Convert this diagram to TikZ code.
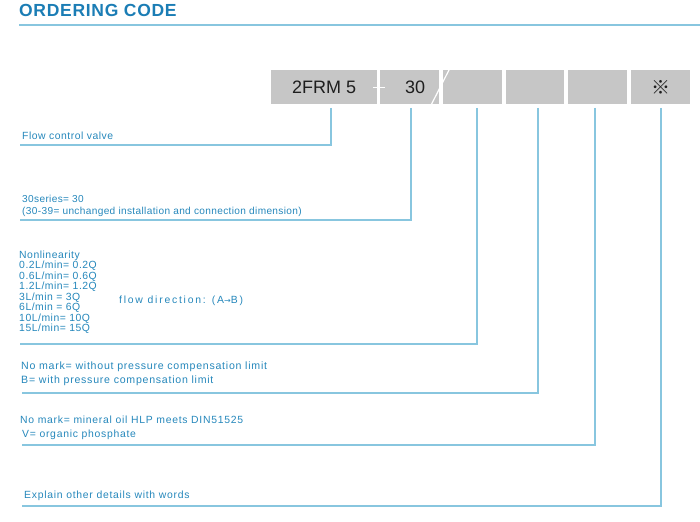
\documentclass[tikz,border=0pt]{standalone}
\usepackage{fontspec}
\setmainfont{Liberation Sans}
\newfontfamily\lsp[LetterSpace=5]{Liberation Sans}
\newfontfamily\lspn[LetterSpace=3.5]{Liberation Sans}
\newfontfamily\lspw[LetterSpace=7]{Liberation Sans}
\newfontfamily\wsp[LetterSpace=17]{Liberation Sans}
\newfontfamily\tsp[LetterSpace=4]{Liberation Sans}
\newfontfamily\arrowf{DejaVu Sans}
\newfontfamily\cjk{Noto Sans CJK SC}
\usetikzlibrary{calc}
\definecolor{titleblue}{HTML}{1B7DB5}
\definecolor{textblue}{HTML}{2587BB}
\definecolor{lineblue}{HTML}{88C6DF}
\definecolor{boxgray}{HTML}{C6C6C6}
\definecolor{codeink}{HTML}{1E1E1E}
\tikzset{
  codebox/.style={fill=boxgray, draw=none, inner sep=0pt, minimum height=34pt, anchor=north west,
    text=codeink, font=\fontsize{18}{20}\selectfont},
  desc/.style={anchor=west, inner sep=0pt, text=textblue, align=left,
    font=\lsp\fontsize{10.4}{12}\selectfont},
  conn/.style={draw=lineblue, line width=1.2pt},
  cut/.style={draw=white, line width=1.2pt}
}
\begin{document}
\begin{tikzpicture}[x=1pt,y=-1pt]
\useasboundingbox (0,0) rectangle (700,521);
% title
\node[anchor=base west, inner sep=0pt, text=titleblue, font=\tsp\bfseries\fontsize{17.5}{20}\selectfont] (title) at (19,16.5) {ORDERING CODE};
\coordinate (ulA) at (19,25);
\coordinate (ulB) at (700,25);
\draw[draw=lineblue, line width=1.6pt] (ulA) -- (ulB);
% code boxes
\node[codebox, minimum width=106pt] (b1) at (271,70) {2FRM 5};
\node[codebox, minimum width=59pt] (b2) at (380,70) {\hspace*{11pt}30};
\node[codebox, minimum width=59pt] (b3) at (443,70) {};
\node[codebox, minimum width=58pt] (b4) at (506,70) {};
\node[codebox, minimum width=59pt] (b5) at (568,70) {};
\node[codebox, minimum width=59pt] (b6) at (631,70) {\cjk\fontsize{19}{19}\selectfont ※};
\draw[cut] ($(b1.east)+(-4,0)$) -- ($(b2.west)+(5,0)$);
\draw[cut] ($(b2.south east)+(-8,0)$) -- ($(b3.north west)+(6,0)$);
% connector tops
\coordinate (t1) at (331,108);
\coordinate (t2) at (411,108);
\coordinate (t3) at (477,108);
\coordinate (t4) at (538,108);
\coordinate (t5) at (595,108);
\coordinate (t6) at (661,108);
% connector ends
\coordinate (e1) at (20,145);
\coordinate (e2) at (20,220);
\coordinate (e3) at (20,344);
\coordinate (e4) at (22,393);
\coordinate (e5) at (22,445);
\coordinate (e6) at (22,506);
\draw[conn] (t1) |- (e1);
\draw[conn] (t2) |- (e2);
\draw[conn] (t3) |- (e3);
\draw[conn] (t4) |- (e4);
\draw[conn] (t5) |- (e5);
\draw[conn] (t6) |- (e6);
% descriptions
\node[desc] (d1) at (22,136) {Flow control valve};
\node[desc, font=\lspn\fontsize{10.1}{12}\selectfont] (d2) at (22,206) {30series= 30\\(30-39= unchanged installation and connection dimension)};
\node[desc, font=\lsp\fontsize{10.4}{10.5}\selectfont] (d3) at (19,292) {Nonlinearity\\0.2L/min= 0.2Q\\0.6L/min= 0.6Q\\1.2L/min= 1.2Q\\3L/min = 3Q\\6L/min = 6Q\\10L/min= 10Q\\15L/min= 15Q};
\node[desc, font=\wsp\fontsize{10.4}{12}\selectfont] (d3b) at (119,301) {flow direction: (A{\arrowf\fontsize{8}{10}\selectfont →}B)};
\node[desc, font=\lspw\fontsize{10.6}{14}\selectfont] (d4) at (21,374) {No mark= without pressure compensation limit\\B= with pressure compensation limit};
\node[desc, font=\lspw\fontsize{10.4}{14}\selectfont] (d5) at (20,427.5) {No mark= mineral oil HLP meets DIN51525\\\hspace*{2pt}V= organic phosphate};
\node[desc, font=\lspw\fontsize{10.4}{12}\selectfont] (d6) at (24,496) {Explain other details with words};
\end{tikzpicture}
\end{document}
